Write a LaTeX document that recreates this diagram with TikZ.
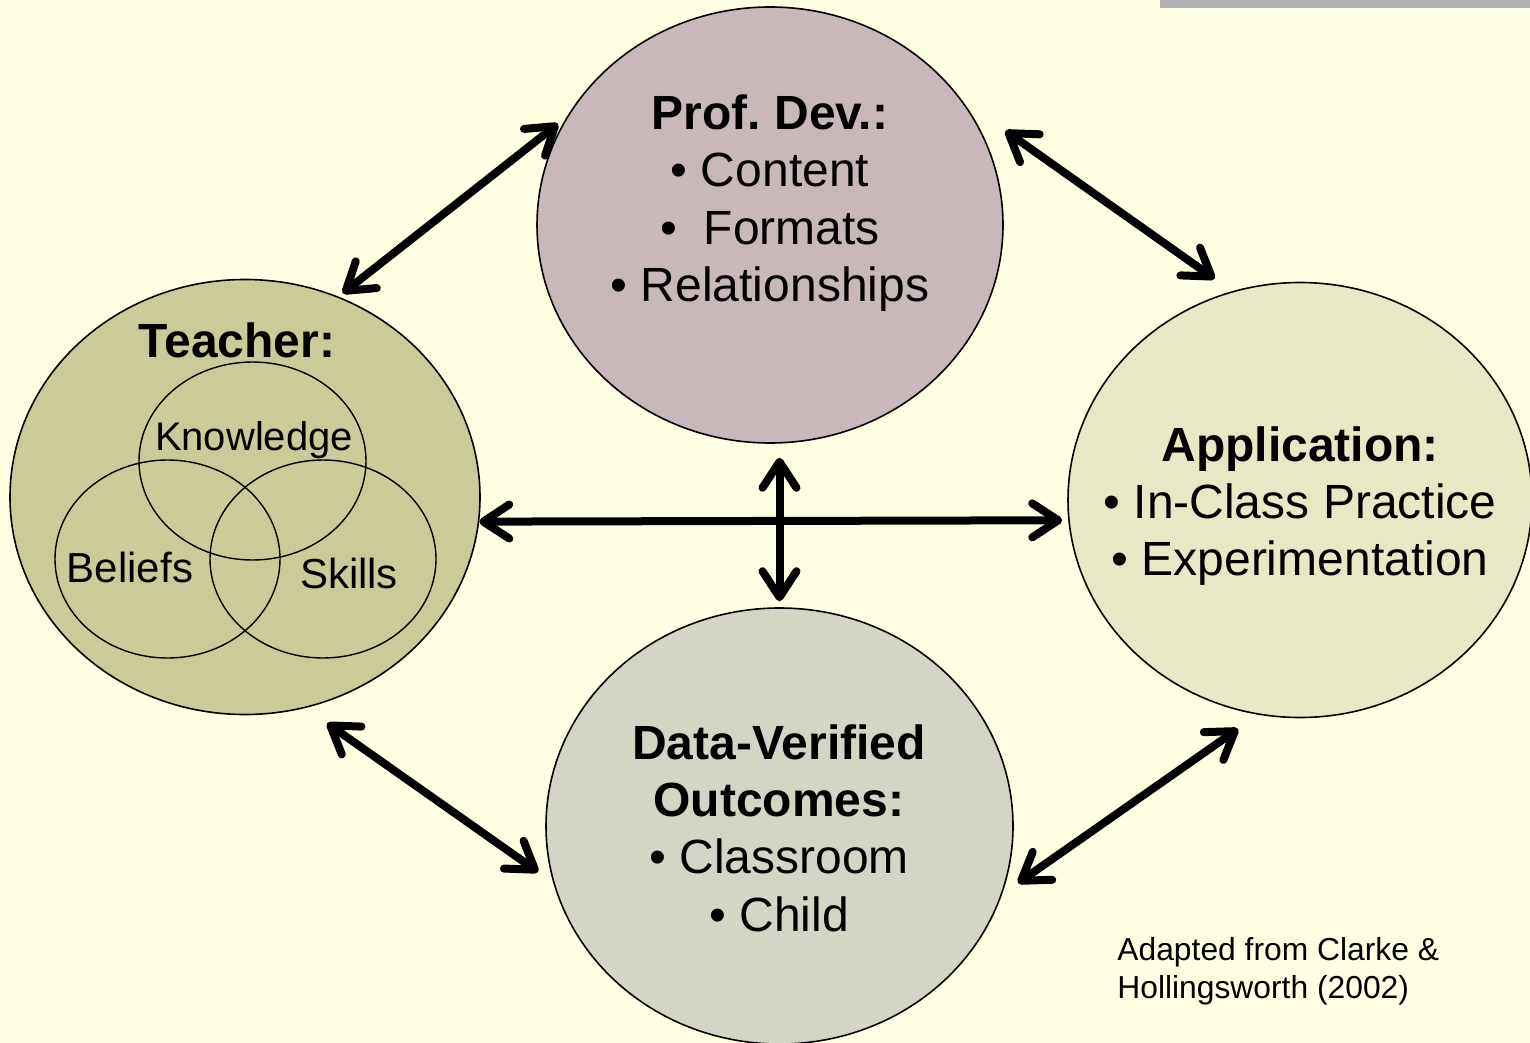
\documentclass[tikz,border=0pt]{standalone}
\usepackage{fontspec}
\setmainfont{Liberation Sans}
\usetikzlibrary{arrows.meta,shapes.geometric,calc}
\frenchspacing

\definecolor{paper}{HTML}{FFFFE1}
\definecolor{bar}{HTML}{B2B2B2}
\definecolor{pdfill}{HTML}{C8B8B9}
\definecolor{teachfill}{HTML}{CBCB9A}
\definecolor{appfill}{HTML}{E8E8C4}
\definecolor{datafill}{HTML}{D5D5C5}

\tikzset{
  bubble/.style={ellipse, draw=black, line width=0.8pt, inner sep=0pt},
  venn/.style={ellipse, draw=black, line width=0.7pt, inner sep=0pt},
  txt/.style={align=center, inner sep=0pt, font=\fontsize{24}{28.7}\selectfont},
  dbl/.style={line width=4pt, >={Straight Barb[length=13pt,width=17pt,line cap=round,line join=round]}, <->},
}

\begin{document}
\begin{tikzpicture}[x=0.5pt,y=-0.5pt]
  % page
  \fill[paper] (0,0) rectangle (1530,1043);
  \useasboundingbox (0,0) rectangle (1530,1043);
  \fill[bar] (1160,0) rectangle (1530,8);

  % the four bubbles
  \node[bubble, fill=pdfill, minimum width=233pt, minimum height=218pt] (pd) at (770,225) {};
  \node[bubble, fill=teachfill, minimum width=235pt, minimum height=217.5pt] (teacher) at (245,497) {};
  \node[bubble, fill=appfill, minimum width=232pt, minimum height=217.5pt] (app) at (1300,500) {};
  \node[bubble, fill=datafill, minimum width=233.5pt, minimum height=218pt] (data) at (779.5,826) {};

  % Venn diagram inside the teacher bubble
  \node[venn, minimum width=113.5pt, minimum height=99pt] (know) at (252.5,461) {};
  \node[venn, minimum width=112.5pt, minimum height=99pt] (belief) at (167.5,559) {};
  \node[venn, minimum width=113pt, minimum height=99pt] (skill) at (323,559) {};

  % texts
  \node[txt] (pdtxt) at (770,203) {\textbf{Prof. Dev.:}\\• Content\\•\ \ Formats\\• Relationships};
  \node[txt] (teachtxt) at (237,340) {\textbf{Teacher:}};
  \node[inner sep=0pt, font=\fontsize{20}{23}\selectfont] (knowtxt) at (254,440) {Knowledge};
  \node[inner sep=0pt, font=\fontsize{21}{24}\selectfont] (belieftxt) at (130,567) {Beliefs};
  \node[inner sep=0pt, font=\fontsize{21}{24}\selectfont] (skilltxt) at (349,573) {Skills};
  \node[txt] (apptxt) at (1300,506) {\textbf{Application:}\\• In-Class Practice\\• Experimentation};
  \node[txt] (datatxt) at (779,828) {\textbf{Data-Verified}\\\textbf{Outcomes:}\\• Classroom\\• Child};
  \node[align=left, anchor=base west, inner sep=0pt, font=\fontsize{15.9}{19}\selectfont] (src) at (1117,998)
    {Adapted from Clarke \&\\Hollingsworth (2002)};

  % connectors
  \draw[dbl, shorten <=2.7pt, shorten >=5.5pt] (teacher.65.7) -- (pd.152.9);
  \draw[dbl, shorten <=26.5pt, shorten >=10.7pt] (pd.33.5) -- (app.108.8);
  \draw[dbl, shorten >=3pt] (teacher.-6.2) -- (app.185.5);
  \draw[dbl, shorten <=7pt, shorten >=3pt] (pd.south -| data.north) -- (data.north);
  \draw[dbl, shorten <=13.2pt, shorten >=9.1pt] (teacher.-74.5) -- (data.194.8);
  \draw[dbl, shorten <=9.6pt, shorten >=12.3pt] (data.-17.07) -- (app.-101.3);
\end{tikzpicture}
\end{document}
